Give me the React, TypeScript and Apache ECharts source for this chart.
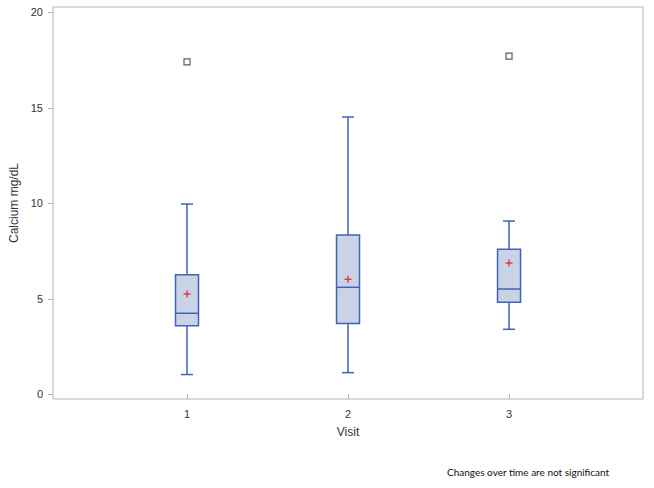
import React, { useEffect, useRef } from "react";
import * as echarts from "echarts";

const visits = [1, 2, 3];
const lowWhisker = [1.03, 1.13, 3.4];
const q1 = [3.58, 3.7, 4.82];
const median = [4.24, 5.6, 5.51];
const q3 = [6.26, 8.34, 7.59];
const highWhisker = [9.96, 14.52, 9.07];
const means = [5.25, 6.02, 6.87];
const outliers: [number, number][] = [
  [1, 17.41],
  [3, 17.71],
];
const yTicks = [0, 5, 10, 15, 20];
const xTicks = [1, 2, 3];

const BLUE = "#3f63b8";
const FILL = "#c9d3e5";
const FRAME = "#b4b4b4";
const FONT = "Arial, 'Liberation Sans', sans-serif";

export default function App() {
  const ref = useRef<HTMLDivElement>(null);
  useEffect(() => {
    if (!ref.current) return;
    const chart = echarts.init(ref.current, null, { renderer: "svg" });
    const boxData = visits.map((v, i) => [v, lowWhisker[i], q1[i], median[i], q3[i], highWhisker[i]]);
    const meanData = visits.map((v, i) => [v, means[i]]);
    chart.setOption({
      animation: false,
      grid: {
        left: 53,
        top: 7,
        right: 11,
        bottom: 89,
        show: true,
        borderColor: FRAME,
        borderWidth: 1,
        backgroundColor: "transparent",
        containLabel: false,
        outerBoundsMode: "none",
      },
      xAxis: {
        type: "value",
        min: 0.1677,
        max: 3.832,
        name: "Visit",
        nameLocation: "middle",
        nameGap: 27,
        nameTextStyle: { fontFamily: FONT, fontSize: 12, color: "#333" },
        axisLine: { show: false },
        splitLine: { show: false },
        axisTick: { show: true, length: 5, lineStyle: { color: FRAME }, customValues: xTicks },
        axisLabel: { customValues: xTicks, fontFamily: FONT, fontSize: 11, color: "#333", margin: 9 },
      },
      yAxis: {
        type: "value",
        min: -0.25,
        max: 20.28,
        name: "Calcium mg/dL",
        nameLocation: "middle",
        nameGap: 31,
        nameRotate: 90,
        nameTextStyle: { fontFamily: FONT, fontSize: 12, color: "#333" },
        axisLine: { show: false },
        splitLine: { show: false },
        axisTick: { show: true, length: 5, lineStyle: { color: FRAME }, customValues: yTicks },
        axisLabel: { customValues: yTicks, fontFamily: FONT, fontSize: 11, color: "#333", margin: 10 },
      },
      series: [
        {
          type: "custom",
          data: boxData,
          encode: { x: 0, y: [1, 2, 3, 4, 5] },
          renderItem: (params: any, api: any) => {
            const x = api.value(0);
            const lo = api.coord([x, api.value(1)]);
            const a = api.coord([x, api.value(2)]);
            const m = api.coord([x, api.value(3)]);
            const b = api.coord([x, api.value(4)]);
            const hi = api.coord([x, api.value(5)]);
            const cx = lo[0];
            const hw = 11.5;
            const cw = 6;
            const ls = { stroke: BLUE, lineWidth: 1.5 };
            return {
              type: "group",
              children: [
                { type: "line", shape: { x1: cx, y1: hi[1], x2: cx, y2: b[1] }, style: ls },
                { type: "line", shape: { x1: cx, y1: a[1], x2: cx, y2: lo[1] }, style: ls },
                { type: "line", shape: { x1: cx - cw, y1: hi[1], x2: cx + cw, y2: hi[1] }, style: ls },
                { type: "line", shape: { x1: cx - cw, y1: lo[1], x2: cx + cw, y2: lo[1] }, style: ls },
                {
                  type: "rect",
                  shape: { x: cx - hw, y: b[1], width: hw * 2, height: a[1] - b[1] },
                  style: { fill: FILL, stroke: BLUE, lineWidth: 1.5 },
                },
                { type: "line", shape: { x1: cx - hw, y1: m[1], x2: cx + hw, y2: m[1] }, style: ls },
              ],
            };
          },
          z: 2,
        },
        {
          type: "custom",
          data: meanData,
          encode: { x: 0, y: 1 },
          renderItem: (params: any, api: any) => {
            const p = api.coord([api.value(0), api.value(1)]);
            const s = 3.5;
            const st = { stroke: "#e8202a", lineWidth: 1.2 };
            return {
              type: "group",
              children: [
                { type: "line", shape: { x1: p[0] - s, y1: p[1], x2: p[0] + s, y2: p[1] }, style: st },
                { type: "line", shape: { x1: p[0], y1: p[1] - s, x2: p[0], y2: p[1] + s }, style: st },
              ],
            };
          },
          z: 3,
        },
        {
          type: "scatter",
          data: outliers,
          symbol: "rect",
          symbolSize: 6,
          itemStyle: { color: "#ffffff", borderColor: "#333333", borderWidth: 1.2 },
          z: 3,
        },
      ],
      graphic: [
        {
          type: "text",
          x: 447,
          y: 472,
          style: {
            text: "Changes over time are not significant",
            fontFamily: "Lato, 'Open Sans', sans-serif",
            fontSize: 10,
            fill: "#111",
            textVerticalAlign: "middle",
          },
        },
      ],
    });
    return () => chart.dispose();
  }, []);
  return <div ref={ref} style={{ width: 654, height: 488, position: "absolute", left: 0, top: 0 }} />;
}
